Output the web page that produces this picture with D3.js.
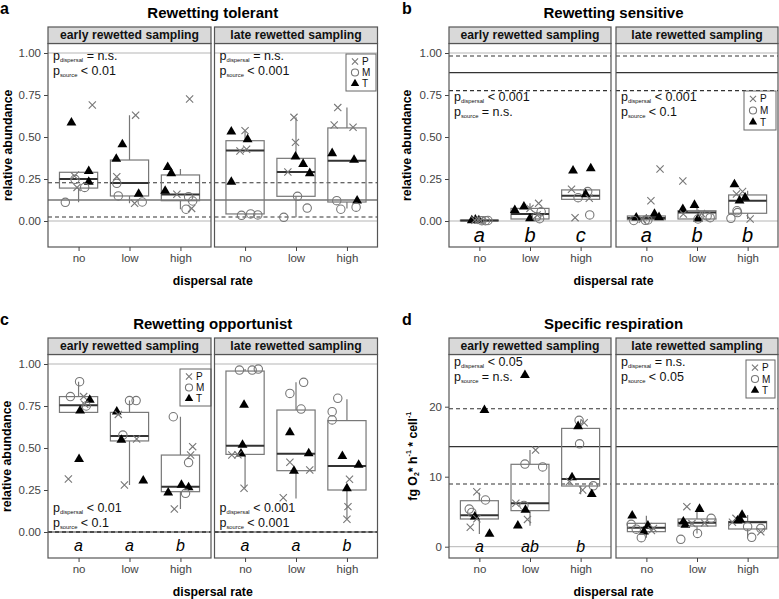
<!DOCTYPE html>
<html><head><meta charset="utf-8">
<script src="https://cdn.jsdelivr.net/npm/d3@7"></script>
<style>body{margin:0;background:#fff} svg{display:block;font-family:"Liberation Sans",Arial,Helvetica,sans-serif}</style>
</head><body><svg id="chart" width="779" height="599"></svg>
<script>
// ---------------- DATA ----------------
const categories = ["no", "low", "high"];
const facets = ["early rewetted sampling", "late rewetted sampling"];
const sources = ["P", "M", "T"];
const fractionTicks = [0, 0.25, 0.5, 0.75, 1];
const respirationTicks = [0, 10, 20];

// points: [facet, category, source, value, jitter(category units)]
const tolerantPoints = [
  [0,0,"T",0.585,-0.14],[0,0,"P",0.69,0.27],[0,0,"T",0.296,0.2],[0,0,"T",0.232,0.2],[0,0,"P",0.268,-0.08],
  [0,0,"M",0.248,-0.07],[0,0,"P",0.20,-0.03],[0,0,"M",0.20,0.12],[0,0,"M",0.111,-0.26],
  [0,1,"T",0.456,-0.14],[0,1,"P",0.63,0.12],[0,1,"T",0.369,-0.26],[0,1,"P",0.264,-0.25],[0,1,"M",0.224,-0.25],
  [0,1,"M",0.149,-0.22],[0,1,"T",0.161,0.18],[0,1,"P",0.105,0.1],[0,1,"M",0.113,0.25],
  [0,2,"P",0.726,0.18],[0,2,"T",0.32,-0.25],[0,2,"T",0.284,-0.18],[0,2,"T",0.179,-0.3],[0,2,"P",0.159,-0.07],
  [0,2,"M",0.145,0.16],[0,2,"M",0.119,0.24],[0,2,"M",0.07,0.11],[0,2,"P",0.075,0.22],
  [1,0,"T",0.532,-0.27],[1,0,"P",0.538,0],[1,0,"T",0.486,0.05],[1,0,"P",0.417,-0.1],[1,0,"P",0.427,0.03],
  [1,0,"T",0.232,-0.27],[1,0,"M",0.034,-0.07],[1,0,"M",0.042,0.11],[1,0,"M",0.036,0.25],
  [1,1,"P",0.617,-0.04],[1,1,"P",0.468,-0.01],[1,1,"T",0.383,-0.01],[1,1,"T",0.339,0.14],[1,1,"P",0.292,-0.16],
  [1,1,"T",0.284,0.27],[1,1,"M",0.147,0.03],[1,1,"M",0.077,0.22],[1,1,"M",0.022,-0.24],
  [1,2,"P",0.675,-0.18],[1,2,"P",0.571,-0.25],[1,2,"P",0.558,0.12],[1,2,"T",0.403,-0.29],[1,2,"T",0.363,0.14],
  [1,2,"M",0.121,-0.2],[1,2,"T",0.121,0.2],[1,2,"M",0.07,-0.12],[1,2,"M",0.082,0.18]
];
// boxes: [facet, category, lowerWhisker, q1, median, q3, upperWhisker]
const tolerantBoxes = [
  [0,0,0.111,0.196,0.25,0.29,0.296],[0,1,0.105,0.149,0.226,0.363,0.63],[0,2,0.07,0.121,0.157,0.274,0.31],
  [1,0,0.034,0.042,0.42,0.478,0.538],[1,1,0.022,0.147,0.292,0.373,0.617],[1,2,0.075,0.113,0.359,0.554,0.675]
];
const tolerantControl = [0.125, 0.024, 0.228]; // mean, lower, upper
const tolerantP = [["= n.s.","< 0.01"],["= n.s.","< 0.001"]];

const sensitivePoints = [
  [0,0,"T",0.004,-0.15],[0,0,"T",0.008,-0.08],[0,0,"T",0.003,-0.01],[0,0,"P",0.005,-0.09],[0,0,"P",0.006,-0.03],
  [0,0,"P",0.004,0.02],[0,0,"M",0.002,0.05],[0,0,"M",0.002,0.12],[0,0,"M",0.003,0.17],
  [0,1,"T",0.065,-0.3],[0,1,"T",0.085,-0.12],[0,1,"T",0.016,0],[0,1,"P",0.105,0.17],[0,1,"P",0.075,0],
  [0,1,"P",0.036,0.14],[0,1,"M",0.055,0.22],[0,1,"M",0.014,0.19],[0,1,"M",0.025,0.13],
  [0,2,"T",0.30,-0.15],[0,2,"T",0.313,0.2],[0,2,"P",0.189,-0.18],[0,2,"M",0.175,0.14],[0,2,"M",0.139,-0.05],
  [0,2,"T",0.159,0.1],[0,2,"P",0.135,0.17],[0,2,"P",0.02,-0.11],[0,2,"M",0.036,0.18],
  [1,0,"P",0.31,0.27],[1,0,"P",0.121,0.09],[1,0,"T",0.02,-0.2],[1,0,"T",0.042,0.16],[1,0,"T",0.022,0.25],
  [1,0,"M",0.003,-0.25],[1,0,"M",0.004,-0.02],[1,0,"M",0.006,0.03],[1,0,"P",0.01,-0.08],
  [1,1,"P",0.238,-0.28],[1,1,"T",0.07,-0.28],[1,1,"T",0.095,-0.05],[1,1,"P",0.042,-0.27],[1,1,"T",0.014,0.02],
  [1,1,"M",0.02,0.26],[1,1,"P",0.045,0.09],[1,1,"M",0.012,0.02],[1,1,"M",0.03,0.2],
  [1,2,"T",0.218,-0.26],[1,2,"P",0.161,-0.22],[1,2,"P",0.176,-0.1],[1,2,"T",0.121,-0.16],[1,2,"T",0.139,-0.05],
  [1,2,"M",0.061,-0.21],[1,2,"M",0.05,-0.2],[1,2,"M",0.016,-0.33],[1,2,"P",0.012,0.05]
];
const sensitiveBoxes = [
  [0,0,0.0,0.001,0.003,0.005,0.008],[0,1,0.01,0.012,0.042,0.075,0.105],[0,2,0.129,0.129,0.151,0.185,0.189],
  [1,0,0.003,0.008,0.018,0.03,0.042],[1,1,0.012,0.012,0.05,0.061,0.095],[1,2,0.012,0.046,0.121,0.155,0.18]
];
const sensitiveControl = [0.883, 0.776, 0.982];
const sensitiveP = [["< 0.001","= n.s."],["< 0.001","< 0.1"]];
const sensitiveLetters = [["a","b","c"],["a","b","b"]];

const opportunistPoints = [
  [0,0,"M",0.895,0.02],[0,0,"M",0.806,-0.16],[0,0,"P",0.806,0.1],[0,0,"T",0.786,0.22],[0,0,"M",0.75,0.15],
  [0,0,"T",0.722,0.03],[0,0,"T",0.433,0.01],[0,0,"P",0.315,-0.2],[0,0,"P",0.76,0.12],
  [0,1,"M",0.782,0],[0,1,"M",0.782,0.13],[0,1,"T",0.716,-0.25],[0,1,"P",0.70,-0.22],[0,1,"M",0.577,-0.13],
  [0,1,"T",0.548,-0.16],[0,1,"P",0.554,0.14],[0,1,"P",0.28,-0.1],[0,1,"T",0.305,0.27],
  [0,2,"M",0.686,-0.14],[0,2,"P",0.508,0.24],[0,2,"P",0.458,0.2],[0,2,"M",0.413,0.16],[0,2,"T",0.234,-0.24],
  [0,2,"T",0.28,0.02],[0,2,"T",0.266,0.16],[0,2,"M",0.23,0.1],[0,2,"P",0.137,-0.12],
  [1,0,"M",0.964,-0.11],[1,0,"M",0.964,0.14],[1,0,"M",0.97,0.26],[1,0,"T",0.756,-0.02],[1,0,"T",0.518,-0.05],
  [1,0,"T",0.466,-0.08],[1,0,"P",0.458,-0.26],[1,0,"P",0.46,-0.14],[1,0,"P",0.26,-0.02],
  [1,1,"M",0.891,0.15],[1,1,"M",0.825,-0.12],[1,1,"M",0.732,0.1],[1,1,"T",0.593,-0.12],[1,1,"T",0.468,0.25],
  [1,1,"P",0.415,-0.12],[1,1,"T",0.363,-0.04],[1,1,"P",0.369,0.27],[1,1,"P",0.204,-0.25],
  [1,2,"M",0.796,-0.18],[1,2,"M",0.716,-0.29],[1,2,"M",0.667,-0.29],[1,2,"T",0.452,-0.09],[1,2,"T",0.399,0.23],
  [1,2,"P",0.314,0.05],[1,2,"T",0.26,0],[1,2,"P",0.151,0.02],[1,2,"P",0.076,0]
];
const opportunistBoxes = [
  [0,0,0.712,0.712,0.754,0.806,0.895],[0,1,0.28,0.542,0.571,0.712,0.782],[0,2,0.137,0.24,0.27,0.458,0.686],
  [1,0,0.26,0.462,0.514,0.958,0.97],[1,1,0.2,0.365,0.466,0.726,0.891],[1,2,0.076,0.25,0.393,0.663,0.79]
];
const opportunistControl = [0.0, 0.0, 0.0];
const opportunistP = [["< 0.01","< 0.1"],["< 0.001","< 0.001"]];
const opportunistLetters = [["a","a","b"],["a","a","b"]];

const respirationPoints = [
  [0,0,"T",19.5,0.1],[0,0,"P",7.86,-0.05],[0,0,"M",6.67,0.12],[0,0,"M",5.38,-0.2],[0,0,"M",4.9,-0.15],
  [0,0,"T",4.29,-0.09],[0,0,"P",2.77,-0.18],[0,0,"T",1.81,0.2],[0,0,"P",4.0,-0.05],
  [0,1,"T",24.5,-0.1],[0,1,"P",13.8,0.11],[0,1,"M",11.8,-0.1],[0,1,"M",11.4,0.25],[0,1,"P",6.2,-0.28],
  [0,1,"M",5.9,-0.12],[0,1,"T",5.24,-0.09],[0,1,"P",3.9,-0.05],[0,1,"T",3.0,-0.24],
  [0,2,"M",18.05,-0.03],[0,2,"P",17.7,0.07],[0,2,"T",17.2,-0.05],[0,2,"M",14.7,-0.02],[0,2,"T",9.9,-0.17],
  [0,2,"P",9.3,-0.22],[0,2,"P",8.1,0.04],[0,2,"M",8.7,0.25],[0,2,"T",7.5,0.22],
  [1,0,"T",4.43,-0.28],[1,0,"M",3.2,-0.3],[1,0,"P",2.9,0.03],[1,0,"T",3.0,0.03],[1,0,"T",2.14,-0.05],
  [1,0,"P",2.6,0.14],[1,0,"M",1.29,-0.1],[1,0,"P",2.3,0.1],[1,0,"M",2.5,-0.2],
  [1,1,"P",5.72,-0.2],[1,1,"T",5.38,0.05],[1,1,"M",4.05,0.28],[1,1,"T",3.57,-0.27],[1,1,"T",3.1,-0.23],
  [1,1,"P",3.4,0.15],[1,1,"M",1.9,0.01],[1,1,"M",1.05,-0.32],[1,1,"P",3.3,-0.1],
  [1,2,"T",4.53,-0.11],[1,2,"P",4.05,-0.23],[1,2,"T",3.71,-0.2],[1,2,"P",3.5,-0.3],[1,2,"M",2.86,0],
  [1,2,"M",2.62,0.26],[1,2,"P",2.14,0.26],[1,2,"M",1.34,0.08],[1,2,"T",3.9,-0.15]
];
const respirationBoxes = [
  [0,0,1.8,3.96,4.48,6.57,7.7],[0,1,3.0,5.15,6.2,11.77,13.8],[0,2,7.5,8.67,9.67,16.9,18.05],
  [1,0,1.29,2.15,2.72,3.34,4.43],[1,1,1.9,2.95,3.43,3.96,5.38],[1,2,1.34,2.53,3.5,3.6,4.53]
];
const respirationControl = [14.3, 8.96, 19.7];
const respirationP = [["< 0.05","= n.s."],["= n.s.","< 0.05"]];
const respirationLetters = [["a","ab","b"], null];

// ---------------- LAYOUT ----------------
const panels = [
  {tag:"a", title:"Rewetting tolerant", left:48, fw:163, gap:3.5, top:27, bottom:247, yPx:[221,53], dom:[0,1],
   ticks:fractionTicks, fmt:".2f", pts:tolerantPoints, boxes:tolerantBoxes, ctrl:tolerantControl, light:[0,1],
   pv:tolerantP, pY:[60,75], letters:null, legend:{f:1,x:346,y:54,w:30,h:37}, yTitleX:9},
  {tag:"b", title:"Rewetting sensitive", left:449, fw:162, gap:5, top:27, bottom:247, yPx:[221,53], dom:[0,1],
   ticks:fractionTicks, fmt:".2f", pts:sensitivePoints, boxes:sensitiveBoxes, ctrl:sensitiveControl, light:[0,1],
   pv:sensitiveP, pY:[101,116], letters:sensitiveLetters, letterY:237, letterSize:20, legend:{f:1,x:744,y:91,w:32,h:39}, yTitleX:408},
  {tag:"c", title:"Rewetting opportunist", left:48, fw:163, gap:3.5, top:338, bottom:558, yPx:[532,364], dom:[0,1],
   ticks:fractionTicks, fmt:".2f", pts:opportunistPoints, boxes:opportunistBoxes, ctrl:opportunistControl, light:[1],
   pv:opportunistP, pY:[512,527], letters:opportunistLetters, letterY:547, letterSize:16, legend:{f:0,x:180,y:369,w:31,h:37}, yTitleX:8},
  {tag:"d", title:"Specific respiration", left:449, fw:162, gap:5, top:338, bottom:558, yPx:[546.7,406.7], dom:[0,20],
   ticks:respirationTicks, fmt:"d", pts:respirationPoints, boxes:respirationBoxes, ctrl:respirationControl, light:[0],
   pv:respirationP, pY:[366,381], letters:respirationLetters, letterY:548, letterSize:16, legend:{f:1,x:746,y:360,w:29,h:38}, yTitleX:414, resp:true}
];

const svg = d3.select("#chart");
const stripH = 16.5;
const GREY = "#777", DARK = "#333";

function drawSymbol(g, s, x, y, k = 1) {
  if (s === "P") {
    const r = 3.6 * k;
    g.append("path").attr("d", `M${x-r},${y-r}L${x+r},${y+r}M${x-r},${y+r}L${x+r},${y-r}`)
      .attr("stroke", GREY).attr("stroke-width", 1.1).attr("fill", "none");
  } else if (s === "M") {
    g.append("circle").attr("cx", x).attr("cy", y).attr("r", 4.2 * k)
      .attr("stroke", GREY).attr("stroke-width", 1.1).attr("fill", "none");
  } else {
    g.append("path").attr("d", d3.symbol(d3.symbolTriangle, 42 * k * k)()).attr("transform", `translate(${x},${y})`)
      .attr("fill", "#000");
  }
}

function pText(g, x, y, sub, rest) {
  const t = g.append("text").attr("x", x).attr("y", y).attr("font-size", 12.5).attr("fill", "#111");
  t.append("tspan").text("p");
  t.append("tspan").attr("font-size", 5.8).attr("dy", 2.2).text(sub);
  t.append("tspan").attr("dy", -2.2).text(" " + rest);
}

panels.forEach((P, pi) => {
  const g = svg.append("g");
  const plotTop = P.top + stripH;
  const y = d3.scaleLinear().domain(P.dom).range(P.yPx);
  const totalW = P.fw * 2 + P.gap;

  g.append("text").attr("x", P.left < 100 ? 0 : 402).attr("y", P.top - 13).attr("font-size", 16)
    .attr("font-weight", "bold").text(P.tag);
  g.append("text").attr("x", P.left + totalW / 2).attr("y", P.top - 9).attr("text-anchor", "middle")
    .attr("font-size", 15).attr("font-weight", "bold").text(P.title);

  const ya = g.append("g").attr("transform", `translate(${P.left},0)`)
    .call(d3.axisLeft(y).tickValues(P.ticks).tickFormat(d3.format(P.fmt)).tickSize(4).tickPadding(3));
  ya.select(".domain").remove();
  ya.selectAll("text").attr("font-size", 11.5).attr("fill", "#444").attr("font-family", "Liberation Sans, Arial");
  ya.selectAll("line").attr("stroke", "#444");

  const yt = g.append("text").attr("transform", `translate(${P.yTitleX},${(plotTop + P.bottom) / 2}) rotate(-90)`)
    .attr("text-anchor", "middle").attr("dominant-baseline", "middle").attr("font-size", 12.3).attr("font-weight", "bold");
  if (P.resp) {
    yt.append("tspan").text("fg O");
    yt.append("tspan").attr("font-size", 7).attr("dy", 3).text("2");
    yt.append("tspan").attr("dy", -3).text("* h");
    yt.append("tspan").attr("font-size", 7).attr("dy", -5).text("-1");
    yt.append("tspan").attr("dy", 5).text(" * cell");
    yt.append("tspan").attr("font-size", 7).attr("dy", -5).text("-1");
  } else {
    yt.text("relative abundance");
  }

  g.append("text").attr("x", P.left + totalW / 2).attr("y", P.bottom + 38).attr("text-anchor", "middle")
    .attr("font-size", 12.3).attr("font-weight", "bold").text("dispersal rate");

  facets.forEach((fname, fi) => {
    const fx = P.left + fi * (P.fw + P.gap);
    const x = d3.scalePoint().domain(categories).range([fx, fx + P.fw]).padding(0.6);
    const step = x.step();
    const fg = g.append("g");
    const clipId = `clip-${pi}-${fi}`;
    svg.append("clipPath").attr("id", clipId).append("rect")
      .attr("x", fx).attr("y", plotTop).attr("width", P.fw).attr("height", P.bottom - plotTop);
    const inner = fg.append("g").attr("clip-path", `url(#${clipId})`);

    P.light.forEach(v => inner.append("line").attr("x1", fx).attr("x2", fx + P.fw)
      .attr("y1", y(v)).attr("y2", y(v)).attr("stroke", "#b5b5b5").attr("stroke-width", 1));
    const [m, lo, hi] = P.ctrl;
    [lo, hi].forEach(v => inner.append("line").attr("x1", fx).attr("x2", fx + P.fw)
      .attr("y1", y(v)).attr("y2", y(v)).attr("stroke", DARK).attr("stroke-width", 1.1).attr("stroke-dasharray", "4,3"));
    inner.append("line").attr("x1", fx).attr("x2", fx + P.fw).attr("y1", y(m)).attr("y2", y(m))
      .attr("stroke", DARK).attr("stroke-width", 1.1);

    const bw = step * 0.75;
    P.boxes.filter(b => b[0] === fi).forEach(b => {
      const cx = x(categories[b[1]]);
      const [, , wlo, q1, med, q3, whi] = b;
      inner.append("line").attr("x1", cx).attr("x2", cx).attr("y1", y(q3)).attr("y2", y(whi)).attr("stroke", GREY).attr("stroke-width", 1.2);
      inner.append("line").attr("x1", cx).attr("x2", cx).attr("y1", y(q1)).attr("y2", y(wlo)).attr("stroke", GREY).attr("stroke-width", 1.2);
      inner.append("rect").attr("x", cx - bw / 2).attr("width", bw).attr("y", y(q3))
        .attr("height", Math.max(0.5, y(q1) - y(q3))).attr("fill", "none").attr("stroke", GREY).attr("stroke-width", 1.2);
      inner.append("line").attr("x1", cx - bw / 2).attr("x2", cx + bw / 2).attr("y1", y(med)).attr("y2", y(med))
        .attr("stroke", DARK).attr("stroke-width", 2);
    });

    P.pts.filter(p => p[0] === fi).forEach(p => {
      drawSymbol(inner, p[2], x(categories[p[1]]) + p[4] * step, y(p[3]));
    });

    if (P.letters && P.letters[fi]) {
      P.letters[fi].forEach((L, ci) => {
        fg.append("text").attr("x", x(categories[ci])).attr("y", P.letterY).attr("text-anchor", "middle")
          .attr("dominant-baseline", "middle").attr("font-style", "italic").attr("font-size", P.letterSize).text(L);
      });
    }

    pText(fg, fx + 5, P.pY[0], "dispersal", P.pv[fi][0]);
    pText(fg, fx + 5, P.pY[1], "source", P.pv[fi][1]);

    if (P.legend.f === fi) {
      const L = P.legend;
      fg.append("rect").attr("x", L.x).attr("y", L.y).attr("width", L.w).attr("height", L.h)
        .attr("fill", "#fff").attr("stroke", "#666").attr("stroke-width", 1);
      const rowH = (L.h - 4) / 3;
      sources.forEach((s, si) => {
        const cy = L.y + 2 + rowH * (si + 0.5);
        drawSymbol(fg, s, L.x + 9, cy, 0.85);
        fg.append("text").attr("x", L.x + 16).attr("y", cy + 3.6)
          .attr("font-size", 10).attr("fill", "#111").text(s);
      });
    }

    fg.append("rect").attr("x", fx).attr("y", plotTop).attr("width", P.fw).attr("height", P.bottom - plotTop)
      .attr("fill", "none").attr("stroke", "#555").attr("stroke-width", 1.2);
    fg.append("rect").attr("x", fx).attr("y", P.top).attr("width", P.fw).attr("height", stripH)
      .attr("fill", "#d9d9d9").attr("stroke", "#555").attr("stroke-width", 1.2);
    fg.append("text").attr("x", fx + P.fw / 2).attr("y", P.top + stripH / 2 + 0.5).attr("text-anchor", "middle")
      .attr("dominant-baseline", "middle").attr("font-size", 12.2).attr("font-weight", "bold").attr("fill", "#111").text(fname);

    const xa = fg.append("g").attr("transform", `translate(0,${P.bottom})`)
      .call(d3.axisBottom(x).tickSize(4).tickPadding(3));
    xa.select(".domain").remove();
    xa.selectAll("text").attr("font-size", 11.5).attr("fill", "#444").attr("font-family", "Liberation Sans, Arial");
    xa.selectAll("line").attr("stroke", "#444");
  });
});
</script></body></html>
